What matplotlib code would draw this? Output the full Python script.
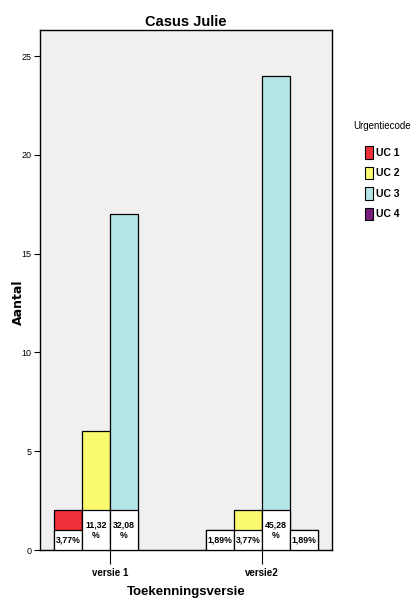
import matplotlib.pyplot as plt
from matplotlib.patches import Patch
import numpy as np

plt.rcParams['font.family'] = ['Liberation Sans Narrow', 'Liberation Sans', 'DejaVu Sans']

VERSIONS = ['versie 1', 'versie2']
CODES = ['UC 1', 'UC 2', 'UC 3', 'UC 4']
COLORS = ['#f03038', '#fafa6e', '#b4e6e8', '#7a1e7e']
# counts per code for each version
COUNTS = {
    'UC 1': [2, 1],
    'UC 2': [6, 2],
    'UC 3': [17, 24],
    'UC 4': [0, 1],
}
LABELS = {
    'UC 1': ['3,77%', '1,89%'],
    'UC 2': ['11,32\n%', '3,77%'],
    'UC 3': ['32,08\n%', '45,28\n%'],
    'UC 4': ['', '1,89%'],
}

fig = plt.figure(figsize=(4.16, 6.05), dpi=100)
ax = fig.add_axes([40 / 416, 55 / 605, 292 / 416, 520 / 605])
ax.set_facecolor('#f0f0f0')

width = 28 / 152
x = np.arange(len(VERSIONS))
for i, code in enumerate(CODES):
    pos = x + (i - 1.5) * width
    for j, v in enumerate(COUNTS[code]):
        if v == 0:
            continue
        ax.bar(pos[j], v, width, color=COLORS[i], edgecolor='black', linewidth=0.9, zorder=2)
        lab = LABELS[code][j]
        h = 2 if '\n' in lab else 1
        ax.bar(pos[j], h, width, color='white', edgecolor='black', linewidth=0.9, zorder=3)
        ax.text(pos[j], h / 2, lab, ha='center', va='center', fontsize=6.3,
                fontweight='bold', linespacing=1.1, zorder=4)

ax.set_xlim(-0.46, 1.46)
ax.set_ylim(0, 26.32)
ax.set_yticks([0, 5, 10, 15, 20, 25])
ax.set_xticks(x)
ax.set_xticklabels(VERSIONS, fontsize=7, fontweight='bold')
ax.tick_params(axis='y', labelsize=6.5, length=4, width=0.8, pad=2)
ax.tick_params(axis='x', length=10, width=0.8, pad=3)
for s in ax.spines.values():
    s.set_linewidth(1.0)

ax.set_title('Casus Julie', fontsize=10.5, fontweight='bold', pad=3)
ax.set_xlabel('Toekenningsversie', fontsize=9.5, fontweight='bold', labelpad=6)
ax.set_ylabel('Aantal', fontsize=9, fontweight='bold', family=['DejaVu Sans'])
ax.yaxis.set_label_coords(-15 / 292, (550 - 302) / 520)

handles = [Patch(facecolor=c, edgecolor='black', linewidth=0.8) for c in COLORS]
leg = fig.legend(handles, CODES, title='Urgentiecode', loc='upper left',
                 bbox_to_anchor=(346 / 416, 1 - 121 / 605), frameon=False,
                 prop={'size': 7.5, 'weight': 'bold'}, title_fontsize=7,
                 handlelength=0.8, handleheight=1.5, handletextpad=0.3,
                 labelspacing=0.75, borderpad=0.2)
leg.get_title().set_position((0, 7))

fig.savefig('out.png', dpi=100)
